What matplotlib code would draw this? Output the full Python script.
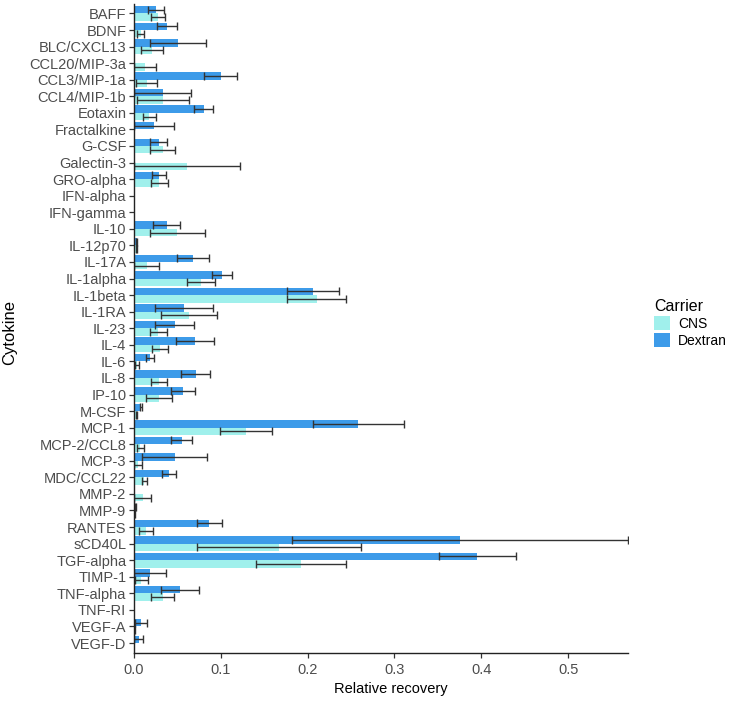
import numpy as np
import matplotlib
matplotlib.use("Agg")
import matplotlib.pyplot as plt
from matplotlib.patches import Patch

plt.rcParams['font.family'] = ['Liberation Sans', 'DejaVu Sans']

# cytokines, top to bottom
cytokines = ["BAFF", "BDNF", "BLC/CXCL13", "CCL20/MIP-3a", "CCL3/MIP-1a", "CCL4/MIP-1b",
             "Eotaxin", "Fractalkine", "G-CSF", "Galectin-3", "GRO-alpha", "IFN-alpha",
             "IFN-gamma", "IL-10", "IL-12p70", "IL-17A", "IL-1alpha", "IL-1beta", "IL-1RA",
             "IL-23", "IL-4", "IL-6", "IL-8", "IP-10", "M-CSF", "MCP-1", "MCP-2/CCL8",
             "MCP-3", "MDC/CCL22", "MMP-2", "MMP-9", "RANTES", "sCD40L", "TGF-alpha",
             "TIMP-1", "TNF-alpha", "TNF-RI", "VEGF-A", "VEGF-D"]

# relative recovery (mean) and error half-width
dextran = [0.0256, 0.0385, 0.051, 0.0, 0.100, 0.033, 0.0804, 0.023, 0.0285, 0.0, 0.0285, 0.0,
           0.0, 0.0377, 0.003, 0.0677, 0.1015, 0.2065, 0.0573, 0.0469, 0.0704, 0.0185, 0.0711,
           0.0565, 0.0077, 0.2584, 0.055, 0.0469, 0.0408, 0.0, 0.0015, 0.0869, 0.3756, 0.3956,
           0.0185, 0.053, 0.0, 0.0077, 0.0054]
dextran_err = [0.009, 0.0115, 0.032, 0.0, 0.0192, 0.033, 0.0111, 0.0235, 0.010, 0.0, 0.0079, 0.0,
               0.0, 0.0154, 0.001, 0.0186, 0.0119, 0.0298, 0.0336, 0.0223, 0.0223, 0.0048, 0.0167,
               0.0135, 0.0012, 0.0523, 0.0123, 0.0373, 0.008, 0.0, 0.0005, 0.0148, 0.1934, 0.0448,
               0.018, 0.0223, 0.0, 0.0069, 0.0054]
cns = [0.028, 0.0077, 0.0208, 0.0128, 0.0146, 0.033, 0.0177, 0.0, 0.033, 0.0607, 0.029, 0.0,
       0.0, 0.050, 0.003, 0.0146, 0.0773, 0.2103, 0.0634, 0.028, 0.0296, 0.0035, 0.0288,
       0.0288, 0.003, 0.129, 0.0071, 0.005, 0.012, 0.010, 0.001, 0.0138, 0.1669, 0.1926,
       0.0085, 0.033, 0.0, 0.001, 0.0]
cns_err = [0.008, 0.0038, 0.0125, 0.0123, 0.0123, 0.030, 0.0073, 0.0, 0.0146, 0.061, 0.0096, 0.0,
           0.0, 0.032, 0.001, 0.0146, 0.0158, 0.0342, 0.0327, 0.010, 0.009, 0.0023, 0.0092,
           0.0152, 0.001, 0.0294, 0.004, 0.0046, 0.0025, 0.0096, 0.0005, 0.0079, 0.0942, 0.0519,
           0.0075, 0.0129, 0.0, 0.0005, 0.0]

carriers = ["CNS", "Dextran"]
colors = {"CNS": "#A0F0EC", "Dextran": "#3D9BE9"}

n = len(cytokines)
y = np.arange(n)
h = 0.45

fig = plt.figure(figsize=(7.33, 7.01), dpi=100)
ax = fig.add_axes([0.1828, 0.0685, 0.8568 - 0.1828, 0.995 - 0.0685])

series = {"Dextran": (np.array(dextran), np.array(dextran_err), -h / 2),
          "CNS": (np.array(cns), np.array(cns_err), h / 2)}
for name, (vals, errs, off) in series.items():
    ax.barh(y + off, vals, height=h, color=colors[name], linewidth=0)
for name, (vals, errs, off) in series.items():
    m = (vals > 0) | (errs > 0)
    ax.errorbar(vals[m], y[m] + off, xerr=errs[m], fmt='none', ecolor='#333333',
                elinewidth=1.0, capsize=2.6, capthick=1.0)

xmax = max(np.array(dextran) + np.array(dextran_err))
ax.set_xlim(0, xmax)
ax.set_ylim(n - 0.4, -0.6)
ax.set_yticks(y)
ax.set_yticklabels(cytokines)
ax.set_xticks([0, 0.1, 0.2, 0.3, 0.4, 0.5])
ax.set_xticklabels(["0.0", "0.1", "0.2", "0.3", "0.4", "0.5"])

for s in ["top", "right"]:
    ax.spines[s].set_visible(False)
for s in ["left", "bottom"]:
    ax.spines[s].set_color("#222222")
    ax.spines[s].set_linewidth(1.0)
ax.tick_params(axis='both', colors='#333333', labelcolor='#4D4D4D', labelsize=10.5,
               length=3.5, width=0.9)
ax.tick_params(axis='y', pad=2)

ax.set_xlabel("Relative recovery", fontsize=10.5, color='black')
ax.xaxis.set_label_coords(0.52, -0.045)
ax.set_ylabel("Cytokine", fontsize=12, color='black')
ax.yaxis.set_label_coords(-0.237, 0.494)

handles = [Patch(facecolor=colors[c], edgecolor='none', label=c) for c in carriers]
leg = fig.legend(handles=handles, title="Carrier", loc='upper left',
                 bbox_to_anchor=(0.892, 0.573), frameon=False, fontsize=10,
                 title_fontsize=11.5, handlelength=1.15, handleheight=1.15,
                 handletextpad=0.6, labelspacing=0.15, borderpad=0.0,
                 borderaxespad=0.0)
leg._legend_box.align = "left"

fig.savefig("out.png", dpi=100)
